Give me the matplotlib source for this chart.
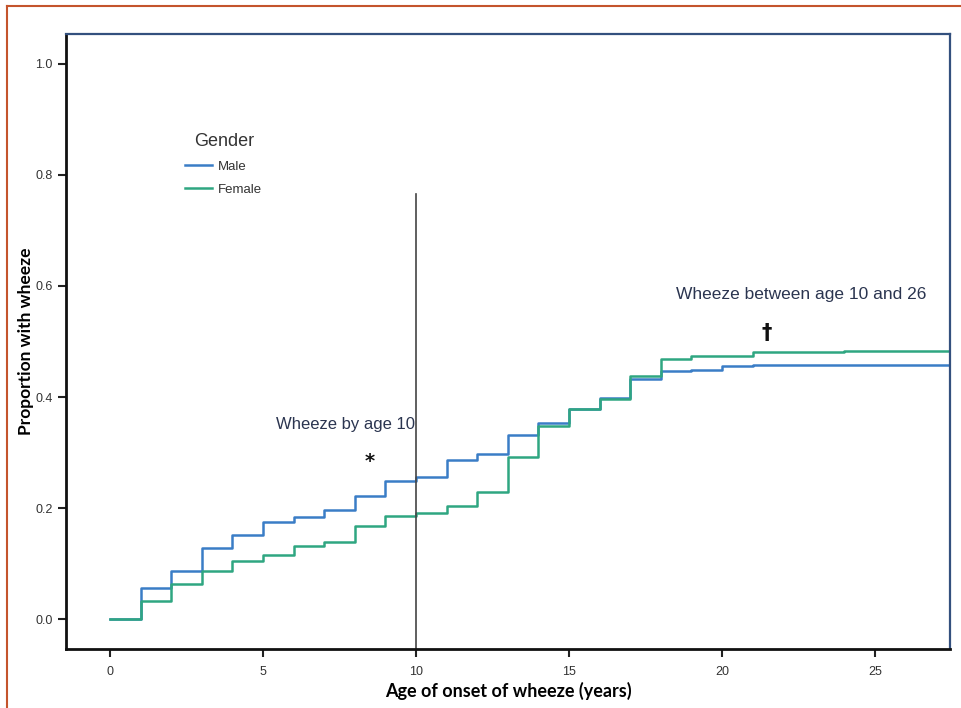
import matplotlib
matplotlib.use("Agg")
import matplotlib.pyplot as plt
from matplotlib.lines import Line2D

# Cumulative proportion with wheeze by age of onset
male_age = [0, 1, 2, 3, 4, 5, 6, 7, 8, 9, 10, 11, 12, 13, 14, 15, 16, 17, 18, 19, 20, 21]
male_prop = [0.0, 0.055, 0.086, 0.128, 0.152, 0.175, 0.184, 0.196, 0.222, 0.249, 0.255,
             0.287, 0.298, 0.332, 0.354, 0.379, 0.398, 0.432, 0.446, 0.449, 0.455, 0.458]

female_age = [0, 1, 2, 3, 4, 5, 6, 7, 8, 9, 10, 11, 12, 13, 14, 15, 16, 17, 18, 19, 20, 21, 24]
female_prop = [0.0, 0.032, 0.064, 0.087, 0.105, 0.115, 0.131, 0.139, 0.168, 0.186, 0.191,
               0.204, 0.228, 0.292, 0.348, 0.379, 0.396, 0.438, 0.468, 0.473, 0.474, 0.481, 0.483]

follow_up_end = 28
cutoff_age = 10
cutoff_top = 0.765

x_ticks = [0, 5, 10, 15, 20, 25]
y_ticks = [0.0, 0.2, 0.4, 0.6, 0.8, 1.0]

male_color = "#3a7dc6"
female_color = "#2fa681"

fig = plt.figure(figsize=(9.61, 7.08), dpi=100)
ax = fig.add_axes([66 / 961, 1 - 649 / 708, (950 - 66) / 961, (649 - 34) / 708])

ax.step(male_age + [follow_up_end], male_prop + [male_prop[-1]], where="post",
        color=male_color, lw=1.8, label="Male")
ax.step(female_age + [follow_up_end], female_prop + [female_prop[-1]], where="post",
        color=female_color, lw=1.8, label="Female")

ax.plot([cutoff_age, cutoff_age], [-0.1, cutoff_top], color="#444444", lw=1.2)

ax.set_xlim(-1.44, 27.45)
ax.set_ylim(-0.054, 1.054)
ax.set_xticks(x_ticks)
ax.set_yticks(y_ticks)
ax.set_xticklabels([str(t) for t in x_ticks], fontsize=9, color="#333333",
                   family="Liberation Sans")
ax.set_yticklabels(["%.1f" % t for t in y_ticks], fontsize=9, color="#333333",
                   family="Liberation Sans")
ax.tick_params(axis="both", direction="out", length=6, width=1.5, color="#222222")
ax.tick_params(axis="x", pad=6)

for side in ["left", "bottom"]:
    ax.spines[side].set_linewidth(2)
    ax.spines[side].set_color("#111111")
for side in ["top", "right"]:
    ax.spines[side].set_linewidth(1.6)
    ax.spines[side].set_color("#33507e")

ax.set_xlabel("Age of onset of wheeze (years)", fontsize=13, fontweight="bold",
              family="Lato", labelpad=3)
ax.set_ylabel("Proportion with wheeze", fontsize=12.5, fontweight="bold",
              family="Lato", labelpad=1)

ax.text(7.7, 0.35, "Wheeze by age 10", fontsize=12, color="#2b3550",
        family="Liberation Sans", ha="center", va="center")
ax.text(8.5, 0.283, "*", fontsize=14, fontweight="bold", color="#111111",
        ha="center", va="center")
ax.text(22.6, 0.585, "Wheeze between age 10 and 26", fontsize=12.5, color="#2b3550",
        family="Liberation Sans", ha="center", va="center")
ax.text(21.45, 0.515, "\u2020", fontsize=15, fontweight="bold", color="#111111",
        ha="center", va="center")

leg = ax.legend(title="Gender", loc="upper left", bbox_to_anchor=(176 / 961, 1 - 124 / 708),
                bbox_transform=fig.transFigure, frameon=False, fontsize=9.5,
                title_fontsize=13, handlelength=2.0, handletextpad=0.5,
                labelspacing=0.8, borderpad=0.2)
for t in leg.get_texts():
    t.set_color("#333333")
    t.set_family("Liberation Sans")
leg.get_title().set_color("#333333")
leg.get_title().set_family("Liberation Sans")

# orange frame of the original figure (cropped on right and bottom)
border = "#c4542c"
fig.add_artist(Line2D([7 / 961, 7 / 961], [0, 1 - 6 / 708], color=border, lw=1.5))
fig.add_artist(Line2D([7 / 961, 1], [1 - 6 / 708, 1 - 6 / 708], color=border, lw=1.5))

fig.savefig("out.png", dpi=100)
